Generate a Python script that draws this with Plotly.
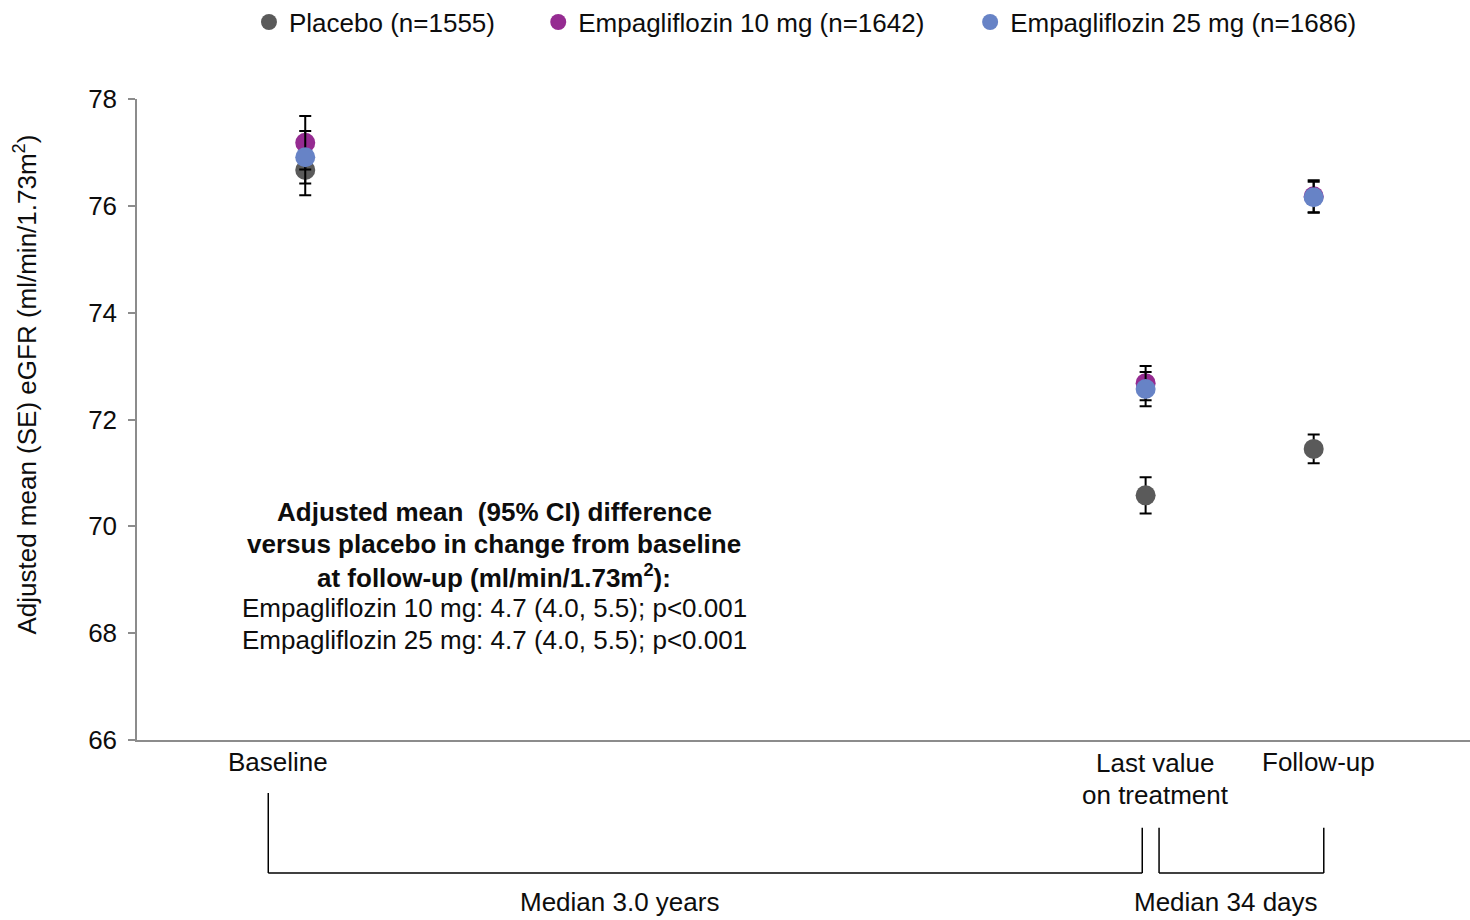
import plotly.graph_objects as go

# Visit positions on a numeric time-like axis
visit_names = ["Baseline", "Last value on treatment", "Follow-up"]
visit_x = [1, 6, 7]

# Adjusted mean eGFR (ml/min/1.73m2) and SE per group
groups = ["Placebo (n=1555)", "Empagliflozin 10 mg (n=1642)", "Empagliflozin 25 mg (n=1686)"]
placebo_mean = [76.67, 70.58, 71.45]
placebo_se = [0.47, 0.34, 0.27]
empa10_mean = [77.18, 72.68, 76.18]
empa10_se = [0.50, 0.32, 0.30]
empa25_mean = [76.91, 72.57, 76.16]
empa25_se = [0.49, 0.32, 0.29]

colors = ["#5a5a5a", "#952b91", "#6783c6"]

y_ticks = [66, 68, 70, 72, 74, 76, 78]

note_lines = [
    ("<b>Adjusted mean  (95% CI) difference</b>", 70.27),
    ("<b>versus placebo in change from baseline</b>", 69.67),
    ("<b>at follow-up (ml/min/1.73m<sup>2</sup>):</b>", 69.07),
    ("Empagliflozin 10 mg: 4.7 (4.0, 5.5); p<0.001", 68.47),
    ("Empagliflozin 25 mg: 4.7 (4.0, 5.5); p<0.001", 67.87),
]

FONT = "Arial, Liberation Sans, sans-serif"
TXT = "#0d0d0d"
FS = 26

fig = go.Figure()
series = [placebo_mean, empa10_mean, empa25_mean]
errors = [placebo_se, empa10_se, empa25_se]
legend_ids = ["legend", "legend2", "legend3"]
for name, m, e, c, lg in zip(groups, series, errors, colors, legend_ids):
    fig.add_trace(go.Scatter(
        x=visit_x, y=m, name=name, mode="markers",
        marker=dict(color=c, size=20, line=dict(width=0)),
        error_y=dict(type="data", array=e, visible=True, color="#000000",
                     thickness=2, width=6),
        legend=lg,
    ))

# Legend entries placed along the top
leg_common = dict(orientation="h", yanchor="middle", y=1.12, xanchor="left",
                  font=dict(family=FONT, size=FS, color=TXT),
                  bgcolor="rgba(0,0,0,0)", itemwidth=30)
fig.update_layout(
    legend=dict(x=0.084, **leg_common),
    legend2=dict(x=0.301, **leg_common),
    legend3=dict(x=0.625, **leg_common),
)

annotations = []
# x-axis visit labels
annotations.append(dict(x=0.84, y=-0.034, xref="x", yref="paper", text="Baseline",
                        showarrow=False, xanchor="center", yanchor="middle"))
annotations.append(dict(x=6.06, y=-0.0365, xref="x", yref="paper", text="Last value",
                        showarrow=False, xanchor="center", yanchor="middle"))
annotations.append(dict(x=6.06, y=-0.0865, xref="x", yref="paper", text="on treatment",
                        showarrow=False, xanchor="center", yanchor="middle"))
annotations.append(dict(x=7.03, y=-0.034, xref="x", yref="paper", text="Follow-up",
                        showarrow=False, xanchor="center", yanchor="middle"))
# bracket labels
annotations.append(dict(x=2.87, y=-0.253, xref="x", yref="paper", text="Median 3.0 years",
                        showarrow=False, xanchor="center", yanchor="middle"))
annotations.append(dict(x=6.48, y=-0.253, xref="x", yref="paper", text="Median 34 days",
                        showarrow=False, xanchor="center", yanchor="middle"))
# treatment difference note
for txt, yy in note_lines:
    annotations.append(dict(x=2.125, y=yy, xref="x", yref="y", text=txt,
                            showarrow=False, xanchor="center", yanchor="middle"))
# y-axis title
annotations.append(dict(x=-0.0835, y=0.554, xref="paper", yref="paper", textangle=-90,
                        text="Adjusted mean (SE) eGFR (ml/min/1.73m<sup>2</sup>)",
                        showarrow=False, xanchor="center", yanchor="middle"))
for a in annotations:
    a["font"] = dict(family=FONT, size=FS, color=TXT)

# Brackets spanning the treatment and follow-up periods
line_style = dict(color="#000000", width=1.5)
y_low, y_top_left, y_top = -0.2075, -0.0827, -0.137
shapes = [
    dict(type="line", xref="x", yref="paper", x0=0.78, x1=0.78, y0=y_top_left, y1=y_low, line=line_style),
    dict(type="line", xref="x", yref="paper", x0=0.78, x1=5.98, y0=y_low, y1=y_low, line=line_style),
    dict(type="line", xref="x", yref="paper", x0=5.98, x1=5.98, y0=y_top, y1=y_low, line=line_style),
    dict(type="line", xref="x", yref="paper", x0=6.08, x1=6.08, y0=y_top, y1=y_low, line=line_style),
    dict(type="line", xref="x", yref="paper", x0=6.08, x1=7.06, y0=y_low, y1=y_low, line=line_style),
    dict(type="line", xref="x", yref="paper", x0=7.06, x1=7.06, y0=y_top, y1=y_low, line=line_style),
]

fig.update_layout(
    width=1470, height=920,
    margin=dict(l=137, r=0, t=99, b=180, autoexpand=False),
    paper_bgcolor="#ffffff", plot_bgcolor="#ffffff",
    font=dict(family=FONT, size=FS, color=TXT),
    showlegend=True,
    annotations=annotations,
    shapes=shapes,
    xaxis=dict(range=[-0.001, 7.93], showgrid=False, zeroline=False, showticklabels=False,
               showline=True, linecolor="#8c8c8c", linewidth=1.5, ticks=""),
    yaxis=dict(range=[66, 78], tickvals=y_ticks, showgrid=False, zeroline=False,
               showline=True, linecolor="#8c8c8c", linewidth=1.5,
               ticks="outside", ticklen=7, tickcolor="#8c8c8c", tickwidth=1.5,
               ticklabelstandoff=6,
               tickfont=dict(family=FONT, size=FS, color=TXT)),
)

fig.write_html("out.html")
